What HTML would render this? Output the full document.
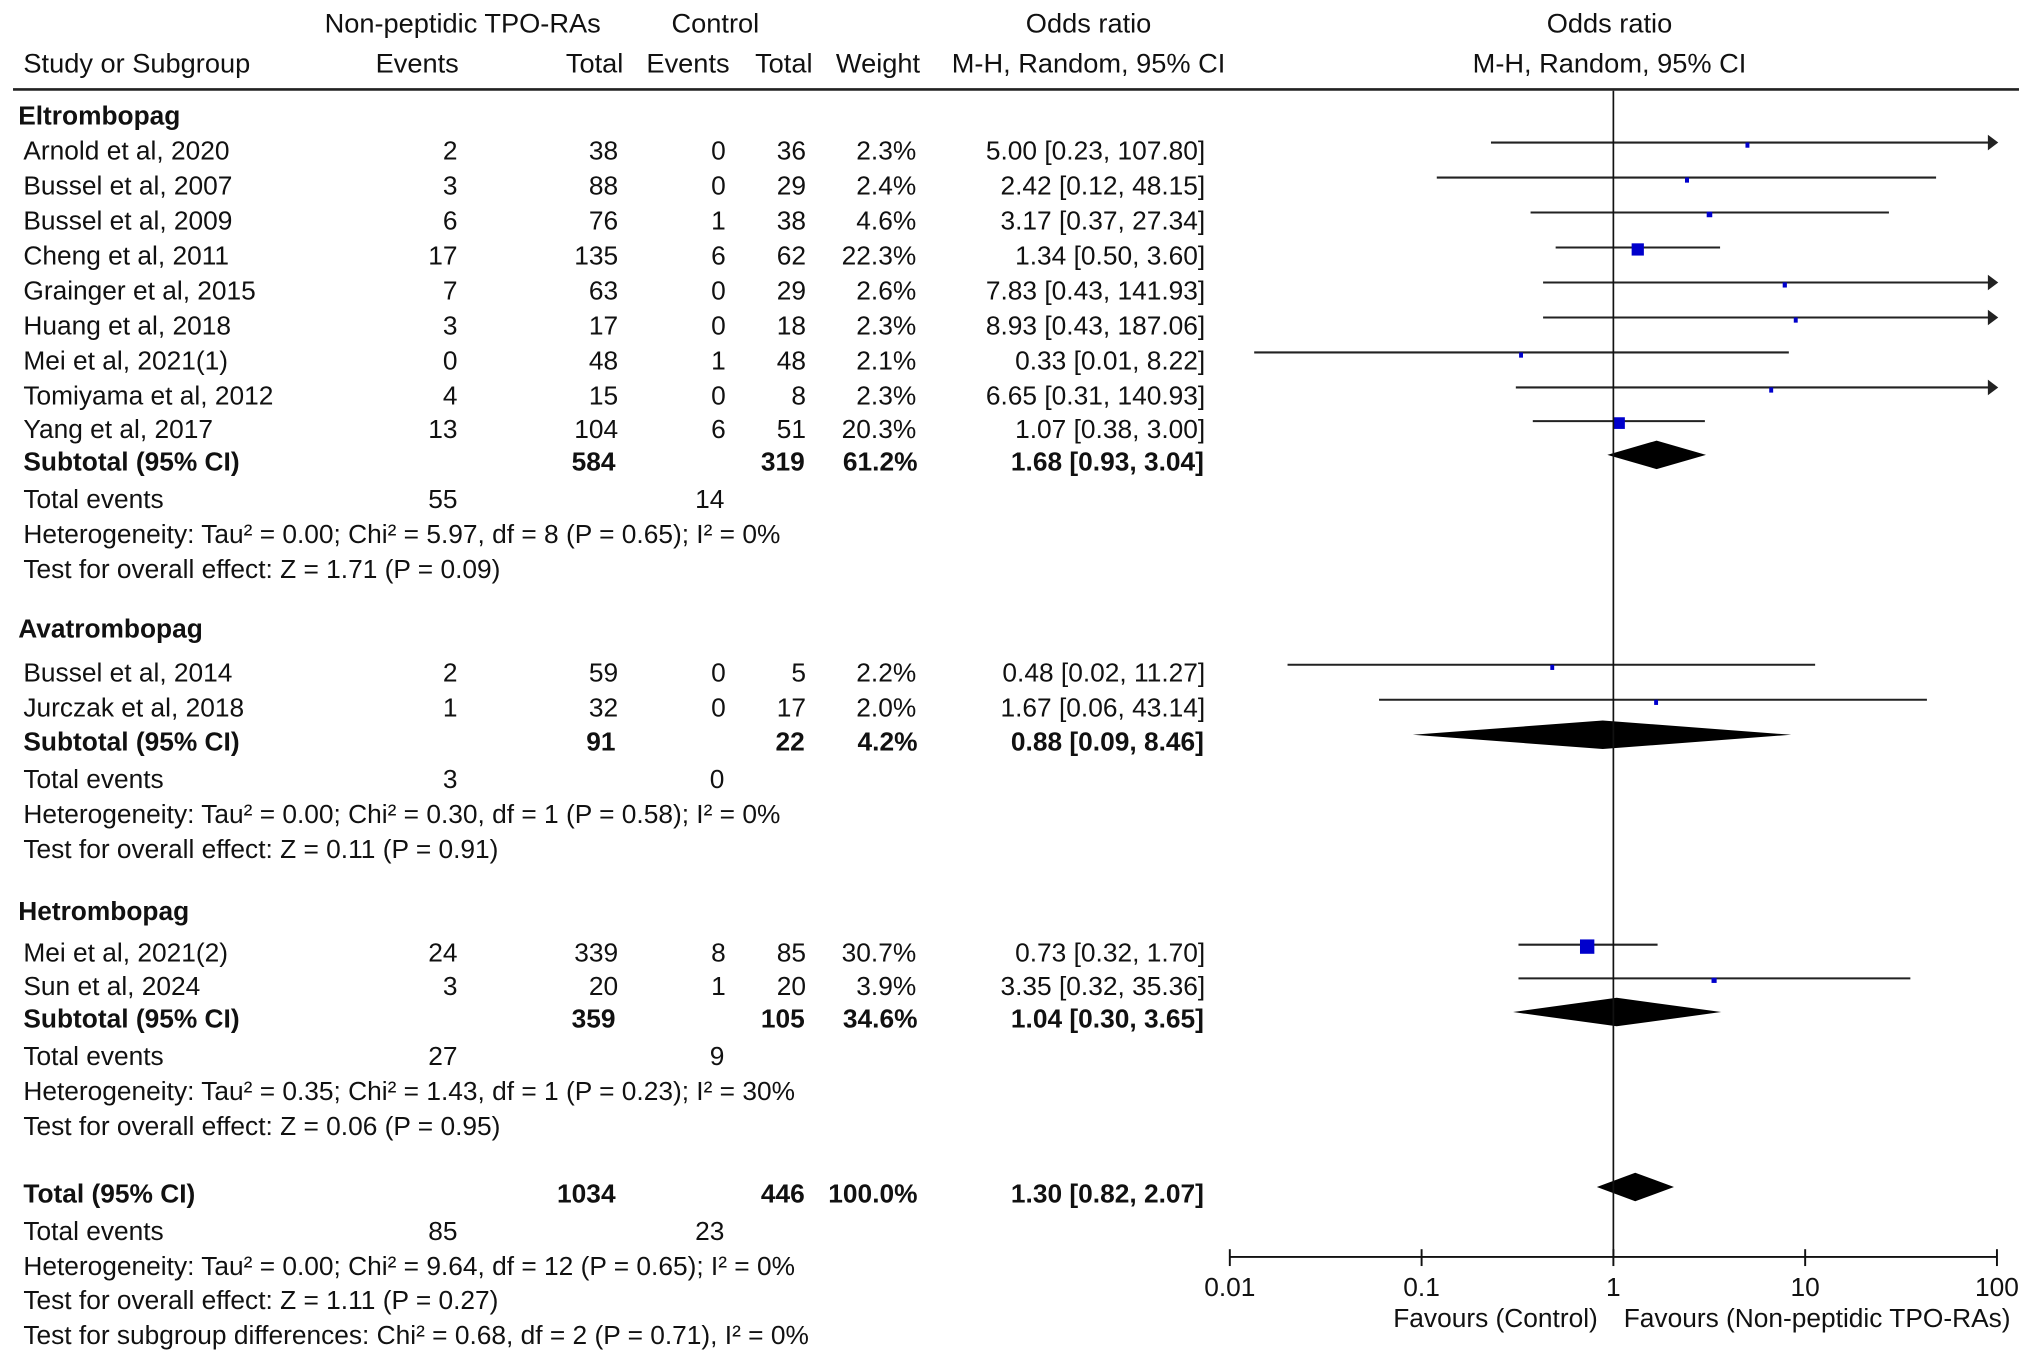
<!DOCTYPE html>
<html><head><meta charset="utf-8"><style>
html,body{margin:0;padding:0;background:#fff;}
svg{display:block;font-family:"Liberation Sans",Arial,sans-serif;}
text{font-size:20.3px;fill:#111;}
.h{font-size:21px;}
.b{font-weight:bold;}
</style></head><body>
<svg id="chart" width="2032" height="1364" viewBox="0 0 1568 1052.6" xmlns="http://www.w3.org/2000/svg">
<g id="table"></g>
<g id="plot"></g>
</svg>
<script>
// ---- data ----
const studyNames = ["Arnold et al, 2020","Bussel et al, 2007","Bussel et al, 2009","Cheng et al, 2011","Grainger et al, 2015","Huang et al, 2018","Mei et al,  2021(1)","Tomiyama et al, 2012","Yang et al, 2017","Bussel et al, 2014","Jurczak et al, 2018","Mei et al,  2021(2)","Sun et al, 2024"];
const studyGroup = [0,0,0,0,0,0,0,0,0,1,1,2,2];
const expEvents = [2,3,6,17,7,3,0,4,13,2,1,24,3];
const expTotal = [38,88,76,135,63,17,48,15,104,59,32,339,20];
const ctlEvents = [0,0,1,6,0,0,1,0,6,0,0,8,1];
const ctlTotal = [36,29,38,62,29,18,48,8,51,5,17,85,20];
const weights = [2.3,2.4,4.6,22.3,2.6,2.3,2.1,2.3,20.3,2.2,2.0,30.7,3.9];
const orVal = [5.00,2.42,3.17,1.34,7.83,8.93,0.33,6.65,1.07,0.48,1.67,0.73,3.35];
const orLo = [0.23,0.12,0.37,0.50,0.43,0.43,0.0134,0.31,0.38,0.02,0.06,0.32,0.32];
const orHi = [107.80,48.15,27.34,3.60,141.93,187.06,8.22,140.93,3.00,11.27,43.14,1.70,35.36];
const studyY = [117,144,171,198,225,252,279,306,332,520,547,736,762];

const groupNames = ["Eltrombopag","Avatrombopag","Hetrombopag"];
const groupY = [90,486,704];
const subExpTotal = [584,91,359];
const subCtlTotal = [319,22,105];
const subWeight = ["61.2%","4.2%","34.6%"];
const subOR = [1.68,0.88,1.04];
const subLo = [0.93,0.09,0.30];
const subHi = [3.04,8.46,3.65];
const subY = [357,573,787];
const subEvE = [55,3,27];
const subEvC = [14,0,9];
const subHet = ["Heterogeneity: Tau² = 0.00; Chi² = 5.97, df = 8 (P = 0.65); I² = 0%","Heterogeneity: Tau² = 0.00; Chi² = 0.30, df = 1 (P = 0.58); I² = 0%","Heterogeneity: Tau² = 0.35; Chi² = 1.43, df = 1 (P = 0.23); I² = 30%"];
const subTest = ["Test for overall effect: Z = 1.71 (P = 0.09)","Test for overall effect: Z = 0.11 (P = 0.91)","Test for overall effect: Z = 0.06 (P = 0.95)"];

const totOR = 1.30, totLo = 0.82, totHi = 2.07;
const tickValues = [0.01,0.1,1,10,100];
const tickLabels = ["0.01","0.1","1","10","100"];

// ---- helpers ----
const NS="http://www.w3.org/2000/svg";
const table=document.getElementById('table'), plot=document.getElementById('plot');
const X0=1245, PERDEC=148, TDY=6;
function xs(v){return X0+Math.log10(Math.max(v,0.0001))*PERDEC;}
function mk(tag,attrs,parent){const e=document.createElementNS(NS,tag);for(const k in attrs)e.setAttribute(k,attrs[k]);parent.appendChild(e);return e;}
function tx(str,x,y,anchor,bold,parent,name){
  parent=parent||table;
  if(parent===table && y>75) y+=TDY;
  const e=mk('text',{x:x,y:y,'text-anchor':anchor||'start'},parent);
  let cls=[]; if(bold)cls.push('b'); if(y<75)cls.push('h');
  if(cls.length)e.setAttribute('class',cls.join(' '));
  e.textContent=str;
  
  
  return e;}
function f2(v){return v.toFixed(2);}
function ci(o,l,h){return f2(o)+" ["+f2(l)+", "+f2(h)+"]";}

// header
tx("Non-peptidic TPO-RAs",357,25,'middle',false,table,'exp-group-header');
tx("Control",552,25,'middle',false,table,'control-group-header');
tx("Odds ratio",840,25,'middle',false,table,'or-header');
tx("Odds ratio",1242,25,'middle',false,table,'plot-or-header');
tx("Study or Subgroup",18,56,'start',false,table,'study-header');
tx("Events",354,56,'end',false,table,'exp-events-header');
tx("Total",481,56,'end',false,table,'exp-total-header');
tx("Events",563,56,'end',false,table,'ctl-events-header');
tx("Total",627,56,'end',false,table,'ctl-total-header');
tx("Weight",710,56,'end',false,table,'weight-header');
tx("M-H, Random, 95% CI",840,56,'middle',false,table,'or-method-header');
tx("M-H, Random, 95% CI",1242,56,'middle',false,table,'plot-method-header');
const hl=mk('line',{x1:10,y1:69,x2:1558,y2:69,stroke:'#222','stroke-width':2},table);



// studies
for(let i=0;i<studyNames.length;i++){
  const y=studyY[i];
  tx(studyNames[i],18,y,'start',false,table,'study-name');
  tx(String(expEvents[i]),353,y,'end',false,table,'exp-events');
  tx(String(expTotal[i]),477,y,'end',false,table,'exp-total');
  tx(String(ctlEvents[i]),560,y,'end',false,table,'ctl-events');
  tx(String(ctlTotal[i]),622,y,'end',false,table,'ctl-total');
  tx(weights[i].toFixed(1)+"%",707,y,'end',false,table,'weight');
  tx(ci(orVal[i],Math.max(orLo[i],0.01),orHi[i]),930,y,'end',false,table,'odds-ratio-ci');
  const ly=y-7;
  const x1=xs(orLo[i]), x2raw=xs(orHi[i]);
  const clip=orHi[i]>100, x2=clip?1535:x2raw;
  const l=mk('line',{x1:x1,y1:ly,x2:x2,y2:ly,stroke:'#222','stroke-width':1.6},plot);
  
  
  if(clip){const a=mk('polygon',{points:(1542)+","+ly+" "+(1534)+","+(ly-6)+" "+(1534)+","+(ly+6),fill:'#222'},plot);
    
    }
  const s=Math.max(3,Math.sqrt(weights[i])*2);
  const sq=mk('rect',{x:xs(orVal[i])-s/2,y:ly-s/2+1.5,width:s,height:Math.max(s,4),fill:'#0000cc'},plot);
  
  
}

function diamond(o,l,h,y,name){
  const d=mk('polygon',{points:xs(l)+","+y+" "+xs(o)+","+(y-11)+" "+xs(h)+","+y+" "+xs(o)+","+(y+11),fill:'#000'},plot);
  
  
}

// groups
for(let g=0;g<3;g++){
  tx(groupNames[g],14,groupY[g],'start',true,table,'subgroup-title');
  const y=subY[g];
  tx("Subtotal (95% CI)",18,y,'start',true,table,'subtotal-label');
  tx(String(subExpTotal[g]),475,y,'end',true,table,'subtotal-exp-total');
  tx(String(subCtlTotal[g]),621,y,'end',true,table,'subtotal-ctl-total');
  tx(subWeight[g],708,y,'end',true,table,'subtotal-weight');
  tx(ci(subOR[g],subLo[g],subHi[g]),929,y,'end',true,table,'subtotal-or');
  tx("Total events",18,y+29,'start',false,table,'total-events-label');
  tx(String(subEvE[g]),353,y+29,'end',false,table,'total-events-exp');
  tx(String(subEvC[g]),559,y+29,'end',false,table,'total-events-ctl');
  tx(subHet[g],18,y+56,'start',false,table,'heterogeneity');
  tx(subTest[g],18,y+83,'start',false,table,'overall-effect');
  diamond(subOR[g],subLo[g],subHi[g],y-6,'subtotal-diamond');
}

// total
tx("Total (95% CI)",18,922,'start',true,table,'total-label');
tx("1034",475,922,'end',true,table,'total-exp');
tx("446",621,922,'end',true,table,'total-ctl');
tx("100.0%",708,922,'end',true,table,'total-weight');
tx(ci(totOR,totLo,totHi),929,922,'end',true,table,'total-or');
tx("Total events",18,951,'start',false,table,'total-events-label');
tx("85",353,951,'end',false,table,'total-events-exp');
tx("23",559,951,'end',false,table,'total-events-ctl');
tx("Heterogeneity: Tau² = 0.00; Chi² = 9.64, df = 12 (P = 0.65); I² = 0%",18,978,'start',false,table,'heterogeneity');
tx("Test for overall effect: Z = 1.11 (P = 0.27)",18,1004,'start',false,table,'overall-effect');
tx("Test for subgroup differences: Chi² = 0.68, df = 2 (P = 0.71), I² = 0%",18,1031,'start',false,table,'subgroup-differences');
diamond(totOR,totLo,totHi,916,'total-diamond');

// axis
const ref=mk('line',{x1:xs(1),y1:70,x2:xs(1),y2:970,stroke:'#111','stroke-width':1.3},plot);


const ax=mk('line',{x1:xs(0.01),y1:970,x2:xs(100),y2:970,stroke:'#111','stroke-width':1.5},plot);


for(let i=0;i<tickValues.length;i++){
  const x=xs(tickValues[i]);
  const t=mk('line',{x1:x,y1:964,x2:x,y2:977,stroke:'#111','stroke-width':1.5},plot);
  
  
  tx(tickLabels[i],x,1000,'middle',false,plot,'x-tick-label');
}
tx("Favours (Control)",1233,1024,'end',false,plot,'favours-control');
tx("Favours (Non-peptidic TPO-RAs)",1253,1024,'start',false,plot,'favours-treatment');
</script>
</body></html>
